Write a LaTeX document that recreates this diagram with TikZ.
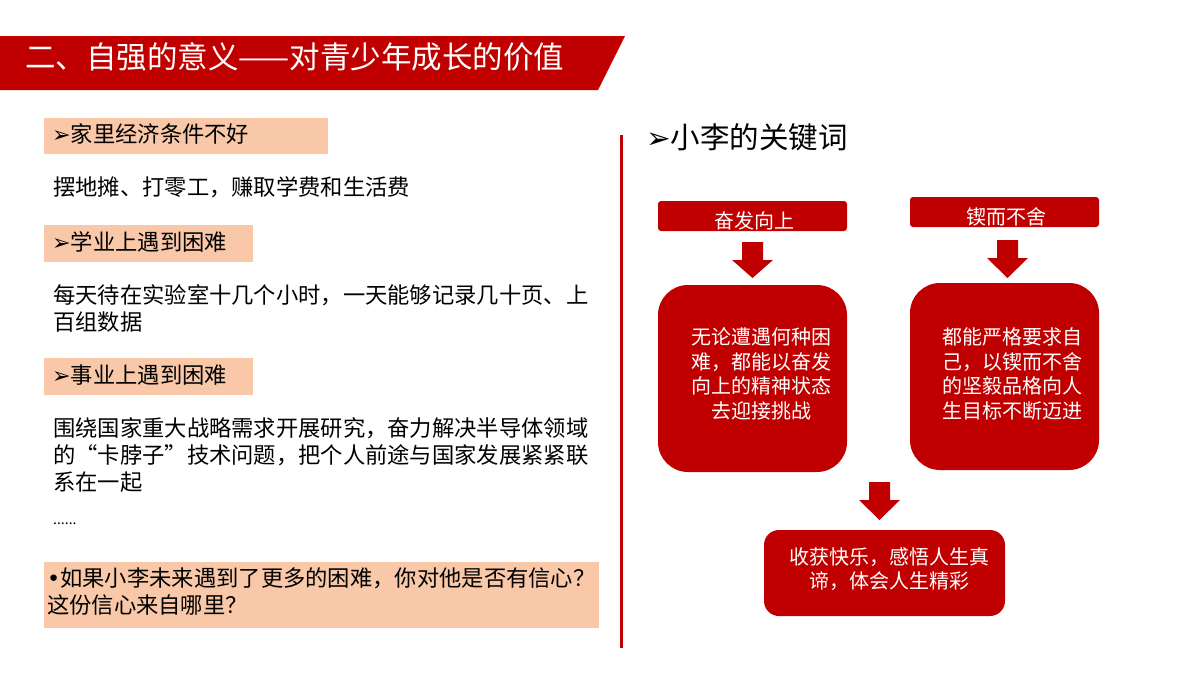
\documentclass[tikz,border=0pt]{standalone}
\usepackage{fontspec}
\setmainfont{Noto Sans CJK SC}
\newfontfamily\dvs{DejaVu Sans}
\definecolor{myred}{HTML}{C00000}
\definecolor{salmon}{HTML}{F8C8A8}
\newcommand{\tri}{{\dvs\bfseries ➢}}
\begin{document}
\begin{tikzpicture}[x=1pt,y=-1pt,
  txt/.style={anchor=west,inner sep=0pt,font=\fontsize{22.3}{27}\selectfont},
  wtxt/.style={inner sep=0pt,text=white,font=\fontsize{20}{24.5}\selectfont,align=center},
  lab/.style={fill=salmon,draw=none},
  blk/.style={fill=myred,draw=none}]
\useasboundingbox (0,0) rectangle (1200,675);
\fill[white] (0,0) rectangle (1200,675);
% banner
\fill[myred] (0,36) -- (625,36) -- (598,90) -- (0,90) -- cycle;
\node[anchor=west,inner sep=0pt,text=white,font=\fontsize{30.5}{32}\selectfont] (title) at (25,57) {二、自强的意义——对青少年成长的价值};
% divider
\draw[myred,line width=3pt] (621,135) -- (621,648);
% left labels
\fill[lab] (44,118) rectangle (328,154);
\node[txt] (l1) at (52,134) {\tri 家里经济条件不好};
\node[txt] (t1) at (53,187) {摆地摊、打零工，赚取学费和生活费};
\fill[lab] (44,225) rectangle (253,262);
\node[txt] (l2) at (52,242) {\tri 学业上遇到困难};
\node[txt,align=left] (t2) at (53,308) {每天待在实验室十几个小时，一天能够记录几十页、上\\百组数据};
\fill[lab] (44,358) rectangle (253,395);
\node[txt] (l3) at (52,375) {\tri 事业上遇到困难};
\node[txt,align=left] (t3) at (53,455) {围绕国家重大战略需求开展研究，奋力解决半导体领域\\的“卡脖子”技术问题，把个人前途与国家发展紧紧联\\系在一起};
\node[txt,font=\fontsize{14}{16}\selectfont] (dots) at (53,524) {......};
\fill[lab] (44,562) rectangle (599,628);
\node[txt,align=left] (q) at (47,592) {{\dvs •}如果小李未来遇到了更多的困难，你对他是否有信心？\\这份信心来自哪里？};
% right
\node[anchor=west,inner sep=0pt,font=\fontsize{29.5}{30}\selectfont] (kw) at (646,137) {\tri 小李的关键词};
\node[blk,rounded corners=3pt,minimum width=189pt,minimum height=30pt,inner sep=0pt] (k1) at (752.5,216) {};
\node[wtxt,anchor=center] at (754,221) {奋发向上};
\node[blk,rounded corners=3pt,minimum width=189pt,minimum height=30pt,inner sep=0pt] (k2) at (1004.5,212) {};
\node[wtxt,anchor=center] at (1006,217) {锲而不舍};
\fill[myred] (742,242) -- (763,242) -- (763,260) -- (773,260) -- (752.5,278) -- (732,260) -- (742,260) -- cycle;
\fill[myred] (997,240) -- (1018,240) -- (1018,258) -- (1028,258) -- (1007.5,278) -- (987,258) -- (997,258) -- cycle;
\node[blk,rounded corners=30pt,minimum width=189pt,minimum height=187pt] (b1) at (752.5,378.5) {};
\node[wtxt] at (761,374) {无论遭遇何种困\\难，都能以奋发\\向上的精神状态\\去迎接挑战};
\node[blk,rounded corners=30pt,minimum width=189pt,minimum height=187pt] (b2) at (1004.5,376.5) {};
\node[wtxt,align=left] at (1012,374) {都能严格要求自\\己，以锲而不舍\\的坚毅品格向人\\生目标不断迈进};
\fill[myred] (869,482) -- (890,482) -- (890,500) -- (900,500) -- (879.5,520) -- (859,500) -- (869,500) -- cycle;
\node[blk,rounded corners=15pt,minimum width=241pt,minimum height=86pt] (b3) at (884.5,573) {};
\node[wtxt] at (889,569) {收获快乐，感悟人生真\\谛，体会人生精彩};
\end{tikzpicture}
\end{document}
